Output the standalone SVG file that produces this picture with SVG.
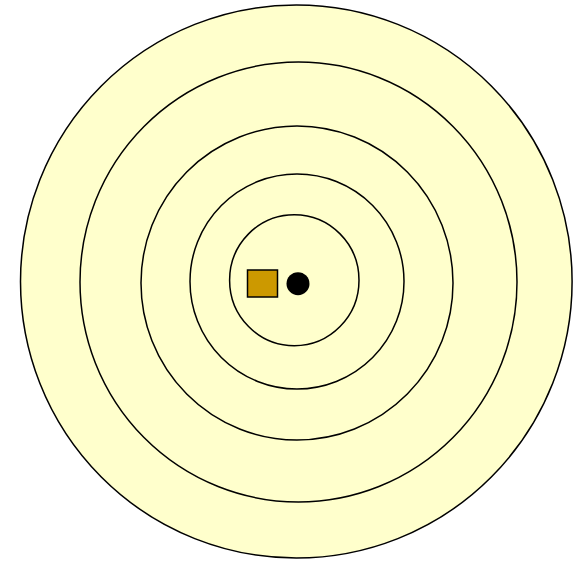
<svg xmlns="http://www.w3.org/2000/svg" width="577" height="562" viewBox="0 0 577 562">
<style>
.ring{fill:#ffffcc;stroke:#000;stroke-width:1.5}
</style>
<rect width="577" height="562" fill="#fff"/>
<g id="ring1"><ellipse class="ring" cx="296.3" cy="281.5" rx="275.8" ry="276.5"/></g>
<g id="ring2"><ellipse class="ring" cx="298.5" cy="282" rx="218.5" ry="220"/></g>
<g id="ring3"><ellipse class="ring" cx="297" cy="283" rx="156" ry="157"/></g>
<g id="ring4"><ellipse class="ring" cx="297" cy="281.5" rx="107" ry="107.5"/></g>
<g id="ring5"><ellipse class="ring" cx="294.3" cy="280.2" rx="64.7" ry="65.5"/></g>
<g id="square"><rect x="247.5" y="270" width="30" height="27" fill="#cc9900" stroke="#000" stroke-width="1.5"/></g>
<g id="dot"><circle cx="298" cy="283.7" r="11.5" fill="#000"/></g>
<g id="connectors"></g>
</svg>
